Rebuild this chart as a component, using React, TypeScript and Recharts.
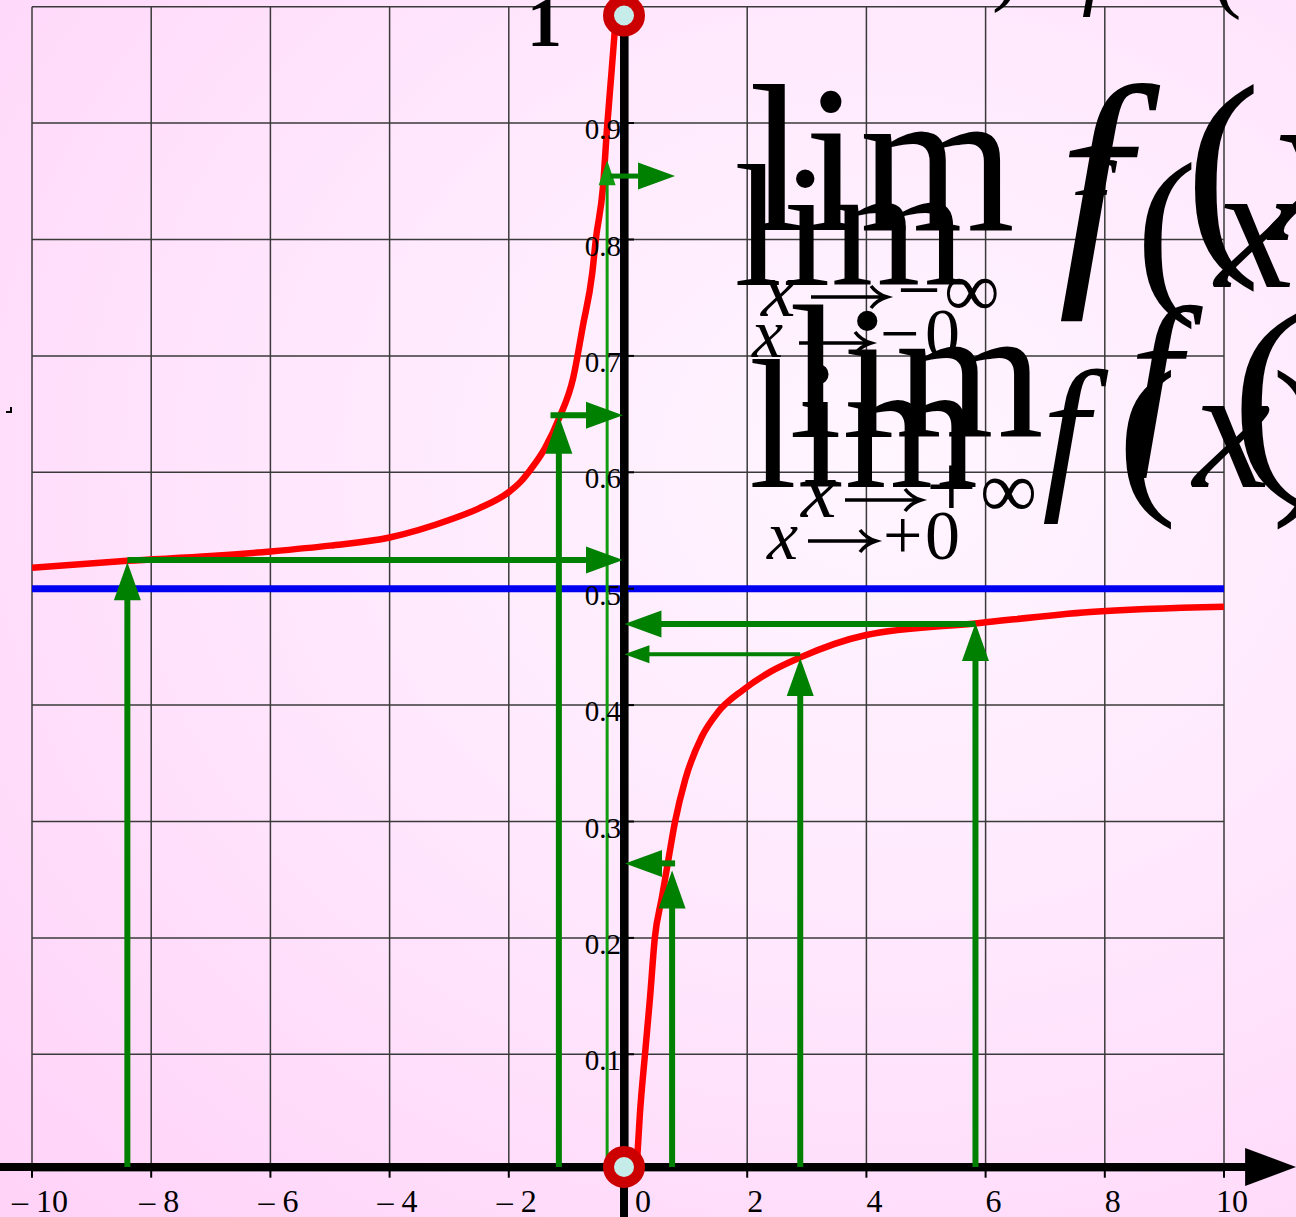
import React from 'react';
import {
  ComposedChart,
  Line,
  Scatter,
  XAxis,
  YAxis,
  CartesianGrid,
  ReferenceLine,
  ReferenceDot,
  Customized,
} from 'recharts';

// f(x) for x < 0, climbing from 0.5 towards 1
const leftX = [-10, -8.4, -7, -6, -5, -4, -3, -2.5, -2, -1.8, -1.64, -1.39, -1.16, -0.92, -0.76, -0.6, -0.54, -0.42, -0.35, -0.27, -0.19];
const leftY = [0.518, 0.524, 0.528, 0.532, 0.537, 0.544, 0.559, 0.569, 0.583, 0.592, 0.602, 0.621, 0.646, 0.681, 0.725, 0.771, 0.8, 0.845, 0.897, 0.948, 1.0];

// f(x) for x > 0, from 0 up towards 0.5
const rightX = [0.15, 0.2, 0.285, 0.37, 0.45, 0.57, 0.67, 0.79, 0.96, 1.24, 1.51, 1.93, 2.4, 2.89, 3.98, 5.9, 7.75, 10];
const rightY = [0.007, 0.049, 0.1, 0.149, 0.2, 0.235, 0.265, 0.3, 0.336, 0.373, 0.394, 0.413, 0.429, 0.441, 0.46, 0.4705, 0.48, 0.4845];

// green arrows: up from the x axis to the curve ...
const riseX = [-8.4, -1.16, -0.35, 0.74, 2.89, 5.83];
const riseTop = [0.5228, 0.6485, 0.868, 0.258, 0.4405, 0.4705];
// ... and across to the y axis
const acrossY = [0.5247, 0.649, 0.8545, 0.264, 0.4437, 0.4697];
const acrossFrom = [-8.4, -1.3, -0.3, 0.79, 2.89, 5.83];
const acrossTo = [-0.084, -0.084, 0.79, -0.05, -0.06, -0.06];

const xTicks = [-10, -8, -6, -4, -2, 0, 2, 4, 6, 8, 10];
const yTicks = [0, 0.1, 0.2, 0.3, 0.4, 0.5, 0.6, 0.7, 0.8, 0.9, 1];
const yTickLabels = ['0.1', '0.2', '0.3', '0.4', '0.5', '0.6', '0.7', '0.8', '0.9', '1'];

const asymptote = 0.5;
const axisX = -0.067;
const axisY = 0.0032;
const holeTop = 0.9924;
const holeBottom = 0.0032;

const leftData = leftX.map((x, i) => ({ x, y: leftY[i] }));
const rightData = rightX.map((x, i) => ({ x, y: rightY[i] }));
const yLabelData = yTickLabels.map((label, i) => ({ x: axisX, y: yTicks[i + 1], label }));

const SERIF = "'Liberation Serif', 'DejaVu Serif', serif";
const GREEN = '#008000';

// shaft + filled triangular head ending at (x2, y2)
const arrowShape = (head: number, half: number, width: number, color: string) => (p: any) => {
  const { x1, y1, x2, y2 } = p;
  const len = Math.hypot(x2 - x1, y2 - y1) || 1;
  const ux = (x2 - x1) / len;
  const uy = (y2 - y1) / len;
  const bx = x2 - ux * head;
  const by = y2 - uy * head;
  const px = -uy * half;
  const py = ux * half;
  return (
    <g>
      <line x1={x1} y1={y1} x2={bx + ux} y2={by + uy} stroke={color} strokeWidth={width} />
      <polygon points={`${x2},${y2} ${bx + px},${by + py} ${bx - px},${by - py}`} fill={color} />
    </g>
  );
};

type Glyph = { t: string; x: number; y: number; s: number; it?: boolean; b?: boolean; w?: number };

// limit formulas written over the plot
const GLYPHS: Glyph[] = [
  { t: 'lim', x: 749, y: 230, s: 210, w: 266 },
  { t: 'x', x: 761, y: 316, s: 78, it: true },
  { t: '\u2212', x: 897, y: 316, s: 78 },
  { t: '\u221e', x: 944, y: 316, s: 78 },
  { t: 'f', x: 1058, y: 266, s: 260, it: true },
  { t: '(', x: 1185, y: 243, s: 228 },
  { t: 'x', x: 1268, y: 240, s: 228, it: true },

  { t: 'lim', x: 734, y: 285, s: 174 },
  { t: 'x', x: 752, y: 357, s: 70, it: true },
  { t: '\u2212', x: 880, y: 357, s: 70 },
  { t: '0', x: 925, y: 357, s: 70 },
  { t: 'f', x: 1070, y: 245, s: 120, it: true },
  { t: '(', x: 1136, y: 290, s: 184 },
  { t: 'x', x: 1215, y: 287, s: 181, it: true },

  { t: 'lim', x: 789, y: 437, s: 191 },
  { t: 'x', x: 801, y: 517, s: 80, it: true },
  { t: '+', x: 926, y: 517, s: 90 },
  { t: '\u221e', x: 980, y: 517, s: 80 },
  { t: 'f', x: 1129, y: 438, s: 188, it: true },
  { t: '(', x: 1232, y: 462, s: 215 },

  { t: 'lim', x: 749, y: 487, s: 185, w: 229 },
  { t: 'x', x: 767, y: 559, s: 70, it: true },
  { t: '+', x: 883, y: 559, s: 70 },
  { t: '0', x: 925, y: 559, s: 70 },
  { t: 'f', x: 1042, y: 488, s: 169, it: true },
  { t: '(', x: 1118, y: 492, s: 176 },
  { t: 'x', x: 1193, y: 487, s: 175, it: true },
  { t: ')', x: 1272, y: 492, s: 176 },

  { t: '1', x: 527, y: 46, s: 70, b: true },
  { t: ')', x: 992, y: -5, s: 85 },
  { t: 'f', x: 1082, y: -1, s: 85, it: true },
  { t: '(', x: 1213, y: 2, s: 85 },
];

// the long "tends to" arrows under each lim: [left, right, centre y]
const TENDS: [number, number, number][] = [
  [811, 887, 297],
  [799, 871, 343],
  [845, 921, 500],
  [808, 876, 541],
];

const Annotations = () => (
  <g fontFamily={SERIF} fill="#000">
    {GLYPHS.map((g, i) => (
      <text
        key={i}
        x={g.x}
        y={g.y}
        fontSize={g.s}
        fontStyle={g.it ? 'italic' : 'normal'}
        fontWeight={g.b ? 'bold' : 'normal'}
        textLength={g.w}
        lengthAdjust={g.w ? 'spacingAndGlyphs' : undefined}
      >
        {g.t}
      </text>
    ))}
    {TENDS.map(([a, b, y], i) => (
      <path
        key={`t-${i}`}
        d={`M${a} ${y} H${b - 2} M${b - 16} ${y - 11} Q${b - 10} ${y - 3} ${b} ${y} Q${b - 10} ${y + 3} ${b - 16} ${y + 11}`}
        stroke="#000"
        strokeWidth={3.5}
        fill="none"
      />
    ))}
    <path d="M11 407 V412 H6" stroke="#000" strokeWidth={2} fill="none" />
  </g>
);

const XTick = ({ x, y, payload }: any) => {
  const v = payload.value as number;
  const text = v < 0 ? `\u2013 ${Math.abs(v)}` : `${v}`;
  return (
    <text x={x + (v === 0 ? 15 : 8)} y={y + 32} textAnchor="middle" fontFamily={SERIF} fontSize={32} fill="#000">
      {text}
    </text>
  );
};

const YTickMark = ({ cx, cy, payload }: any) => (
  <g>
    <line x1={cx + 2} x2={cx + 10} y1={cy} y2={cy} stroke="#000" strokeWidth={2} />
    <text x={cx - 3} y={cy + 16} textAnchor="end" fontFamily={SERIF} fontSize={29} fill="#000">
      {payload.label}
    </text>
  </g>
);

const Ring = (p: any) => (
  <g>
    <circle cx={p.cx} cy={p.cy} r={15.5} fill="#c6ecea" stroke="#cc0000" strokeWidth={11} />
  </g>
);

export default function App() {
  return (
    <div
      style={{
        position: 'absolute',
        left: 0,
        top: 0,
        width: 1296,
        height: 1217,
        overflow: 'hidden',
        background: 'radial-gradient(ellipse at 68% 38%, #fff6ff 0%, #ffe8fd 45%, #ffd2f8 100%)',
      }}
    >
      <ComposedChart width={1296} height={1217} margin={{ top: 6.7, right: 72, bottom: 6.3, left: 32 }}>
        <CartesianGrid
          stroke="#3a3a3a"
          strokeWidth={1.5}
          horizontalValues={yTicks}
          verticalValues={xTicks}
        />
        <XAxis
          dataKey="x"
          type="number"
          domain={[-10, 10]}
          ticks={xTicks}
          interval={0}
          allowDataOverflow
          height={40}
          axisLine={false}
          tickLine={{ stroke: '#000', strokeWidth: 2 }}
          tickSize={7}
          tick={<XTick />}
        />
        <YAxis dataKey="y" type="number" domain={[0, 1]} ticks={yTicks} allowDataOverflow hide />

        <Customized component={Annotations} />

        <Scatter data={yLabelData} dataKey="y" shape={<YTickMark />} isAnimationActive={false} />

        <ReferenceLine y={asymptote} stroke="#0000f0" strokeWidth={7} />

        <ReferenceDot x={axisX} y={holeBottom} ifOverflow="visible" shape={<Ring />} />

        <ReferenceLine
          segment={[{ x: axisX, y: -0.04 }, { x: axisX, y: 1.006 }]}
          ifOverflow="visible"
          stroke="#000"
          strokeWidth={8}
        />
        <ReferenceLine
          segment={[{ x: -10.54, y: axisY }, { x: 11.21, y: axisY }]}
          ifOverflow="visible"
          shape={arrowShape(51, 19, 8, '#000')}
        />

        <Line data={leftData} dataKey="y" type="monotone" stroke="#ff0000" strokeWidth={6.5} dot={false} isAnimationActive={false} />
        <Line data={rightData} dataKey="y" type="monotone" stroke="#ff0000" strokeWidth={6.5} dot={false} isAnimationActive={false} />

        <ReferenceDot x={axisX} y={holeTop} ifOverflow="visible" shape={<Ring />} />

        {riseX.map((x, i) => (
          <ReferenceLine
            key={`rise-${i}`}
            segment={[{ x, y: axisY }, { x, y: riseTop[i] }]}
            ifOverflow="visible"
            shape={i === 2 ? arrowShape(25, 8.5, 3, '#109c10') : arrowShape(38, 13.5, 6, GREEN)}
          />
        ))}
        {acrossY.map((y, i) => (
          <ReferenceLine
            key={`across-${i}`}
            segment={[{ x: acrossFrom[i], y }, { x: acrossTo[i], y }]}
            ifOverflow="visible"
            shape={i === 4 ? arrowShape(25, 9, 4, GREEN) : arrowShape(37, 13.5, i === 2 ? 5 : 6, GREEN)}
          />
        ))}
      </ComposedChart>
    </div>
  );
}
